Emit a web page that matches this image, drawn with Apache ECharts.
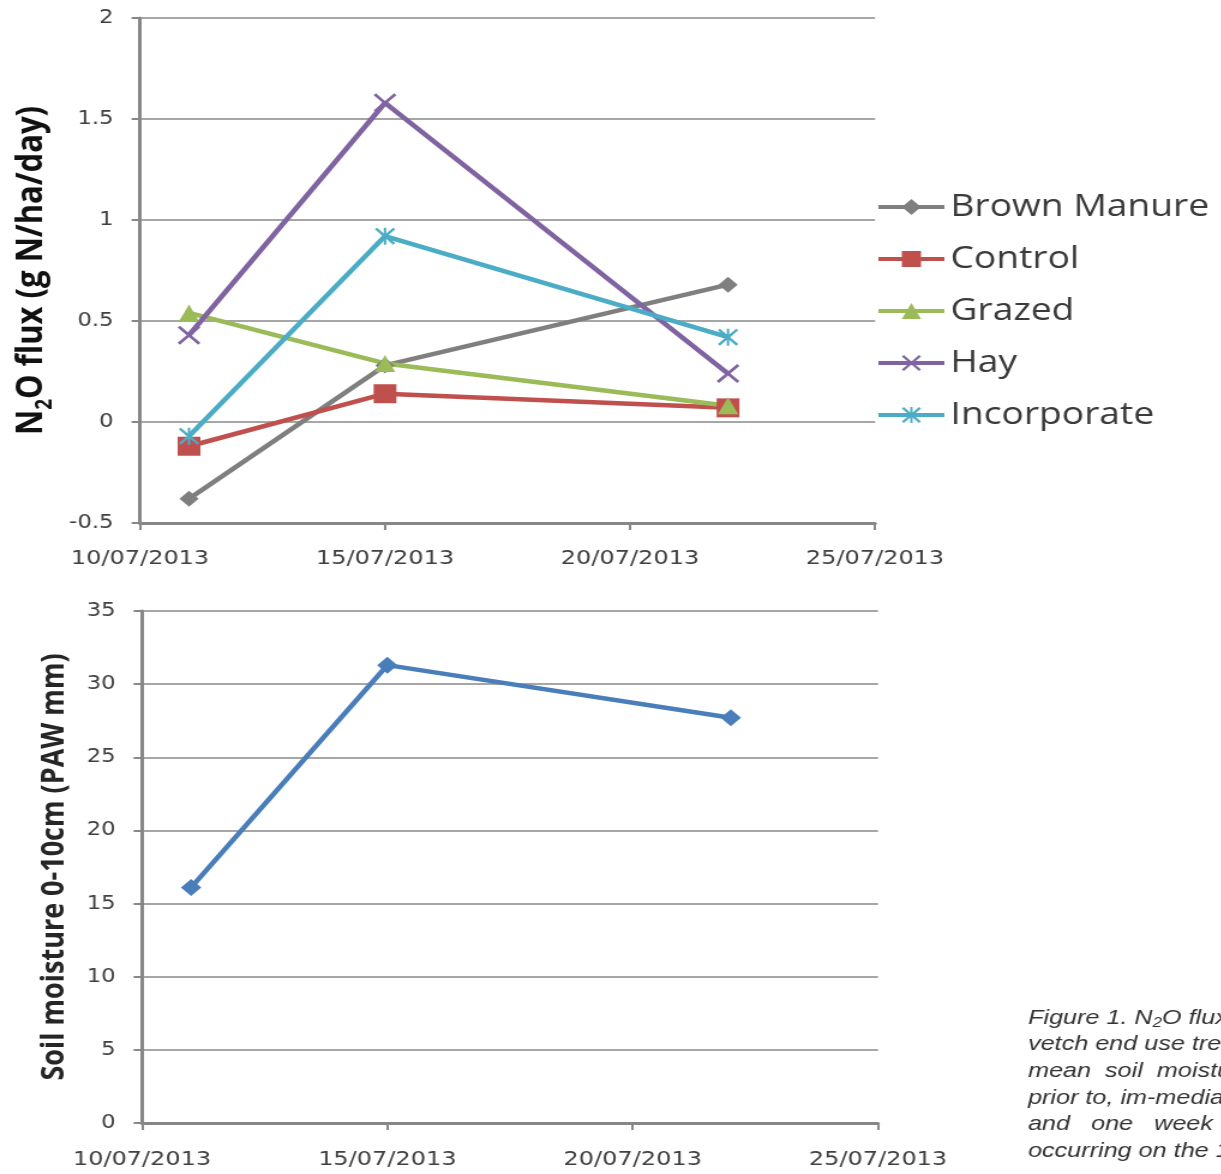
<!DOCTYPE html>
<html>
<head>
<meta charset="utf-8">
<script src="https://cdn.jsdelivr.net/npm/echarts@6/dist/echarts.min.js"></script>
<style>
  html, body { margin: 0; padding: 0; background: #fff; overflow: hidden; }
  /* the figure is drawn narrower and widened as a whole */
  #chart { width: 1017.5px; height: 1174px; transform: scaleX(1.2); transform-origin: 0 0; }
</style>
</head>
<body>
<div id="chart"></div>
<script>
// ---- data ----
const sampleDates = ['11/07/2013', '15/07/2013', '22/07/2013'];
const axisStart = '10/07/2013';
const axisEnd = '25/07/2013';
const tickStepDays = 5;

const seriesNames = ['Brown Manure', 'Control', 'Grazed', 'Hay', 'Incorporate'];
const brownManure = [-0.38, 0.28, 0.68];
const control = [-0.12, 0.14, 0.07];
const grazed = [0.54, 0.29, 0.08];
const hay = [0.43, 1.58, 0.24];
const incorporate = [-0.07, 0.92, 0.42];

const soilMoisture = [16.1, 31.3, 27.7];

const fluxRange = [-0.5, 2];
const fluxStep = 0.5;
const moistureRange = [0, 35];
const moistureStep = 5;

const captionLines = [
  '{i|Figure 1. N}{s|2}{i|O flux from}',
  'vetch end use treatments',
  'mean  soil  moisture',
  'prior to, im-mediately',
  'and   one   week   after',
  'occurring on the 11th'
];

// ---- helpers ----
const STRETCH = 1.2;
const DAY = 86400000;
function parseDate(s) {
  const [d, m, y] = s.split('/').map(Number);
  return Date.UTC(y, m - 1, d);
}
const t0 = parseDate(axisStart);
const dayOffset = s => (parseDate(s) - t0) / DAY;
const pad = n => String(n).padStart(2, '0');
function formatDay(v) {
  const dt = new Date(t0 + v * DAY);
  return pad(dt.getUTCDate()) + '/' + pad(dt.getUTCMonth() + 1) + '/' + dt.getUTCFullYear();
}
const points = vals => sampleDates.map((d, i) => [dayOffset(d), vals[i]]);
const px = x => x / STRETCH;

const AXIS_GREY = '#878787';
const GRID_GREY = '#a6a6a6';
const LABEL = '#404040';

const xSymbol = 'path://M0,1L1,0L5,4L9,0L10,1L6,5L10,9L9,10L5,6L1,10L0,9L4,5Z';
const starSymbol = 'path://M0,1L1,0L5,4L9,0L10,1L6,5L10,9L9,10L5,6L1,10L0,9L4,5Z M4.4,0L5.6,0L5.6,10L4.4,10Z';

function xAxis(gridIndex, margin) {
  return {
    type: 'value', gridIndex,
    min: 0, max: dayOffset(axisEnd), interval: tickStepDays,
    axisLine: { show: true, onZero: false, lineStyle: { color: AXIS_GREY, width: 3 } },
    axisTick: { show: true, length: 7, lineStyle: { color: AXIS_GREY, width: 2 } },
    splitLine: { show: false },
    axisLabel: { formatter: formatDay, fontFamily: 'DejaVu Sans', fontSize: 20, color: LABEL, margin }
  };
}

function yAxis(gridIndex, range, step, name, nameStyle, gap) {
  return {
    type: 'value', gridIndex,
    min: range[0], max: range[1], interval: step,
    axisLine: { show: true, onZero: false, lineStyle: { color: AXIS_GREY, width: 3 } },
    axisTick: { show: true, length: 7, lineStyle: { color: AXIS_GREY, width: 2 } },
    splitLine: { show: true, lineStyle: { color: GRID_GREY, width: 2 } },
    axisLabel: { fontFamily: 'DejaVu Sans', fontSize: 19, color: LABEL, margin: 22 },
    name, nameLocation: 'middle', nameRotate: 90, nameGap: gap,
    nameTextStyle: nameStyle
  };
}

function lineSeries(name, vals, color, symbol, size) {
  return {
    name, type: 'line', xAxisIndex: 0, yAxisIndex: 0,
    data: points(vals),
    symbol, symbolSize: size, showSymbol: true,
    lineStyle: { color, width: 4.5 },
    itemStyle: { color, borderWidth: 0 },
    emphasis: { disabled: true }
  };
}

const chart = echarts.init(document.getElementById('chart'));

chart.setOption({
  animation: false,
  backgroundColor: '#fff',
  grid: [
    { left: px(140), top: 18, width: px(875) - px(140), height: 505 },
    { left: px(142), top: 611, width: px(878) - px(142), height: 512 }
  ],
  xAxis: [xAxis(0, 26), xAxis(1, 27)],
  yAxis: [
    yAxis(0, fluxRange, fluxStep, '{a|N}{s|2}{a|O flux (g N/ha/day)}', {
      rich: {
        a: { fontFamily: 'Open Sans', fontWeight: 'bold', fontSize: 31, color: '#111', lineHeight: 40 },
        s: { fontFamily: 'Open Sans', fontWeight: 'bold', fontSize: 19, color: '#111', lineHeight: 18, verticalAlign: 'bottom' }
      }
    }, 70),
    yAxis(1, moistureRange, moistureStep, 'Soil moisture 0-10cm (PAW mm)', {
      fontFamily: 'Open Sans', fontWeight: 'bold', fontSize: 27, color: '#262626'
    }, 60)
  ],
  legend: {
    data: seriesNames,
    orient: 'vertical',
    left: px(870), top: 184,
    itemWidth: 55, itemHeight: 20, itemGap: 16,
    lineStyle: { width: 4 },
    textStyle: { fontFamily: 'Open Sans', fontSize: 31, color: '#3a3a3a', lineHeight: 36 },
    selectedMode: false
  },
  series: [
    lineSeries('Brown Manure', brownManure, '#7f7f7f', 'diamond', 16),
    lineSeries('Control', control, '#c0504d', 'rect', 19),
    lineSeries('Grazed', grazed, '#9bbb59', 'triangle', 17),
    lineSeries('Hay', hay, '#8064a2', xSymbol, 19),
    lineSeries('Incorporate', incorporate, '#4bacc6', starSymbol, 17),
    {
      name: 'Soil moisture', type: 'line', xAxisIndex: 1, yAxisIndex: 1,
      data: points(soilMoisture),
      symbol: 'diamond', symbolSize: 17,
      lineStyle: { color: '#4a7ebb', width: 4.5 },
      itemStyle: { color: '#4a7ebb' },
      emphasis: { disabled: true }
    }
  ],
  graphic: captionLines.map((line, i) => ({
    type: 'text',
    x: px(1028), y: 1018 + i * 26.6,
    silent: true,
    style: {
      text: line,
      fontFamily: 'Liberation Sans', fontStyle: 'italic', fontSize: 21, fill: '#333',
      verticalAlign: 'middle',
      rich: {
        i: { fontFamily: 'Liberation Sans', fontStyle: 'italic', fontSize: 21, fill: '#333', lineHeight: 24 },
        s: { fontFamily: 'Liberation Sans', fontStyle: 'italic', fontSize: 14, fill: '#333', lineHeight: 10, verticalAlign: 'bottom' }
      }
    }
  }))
});
</script>
</body>
</html>
